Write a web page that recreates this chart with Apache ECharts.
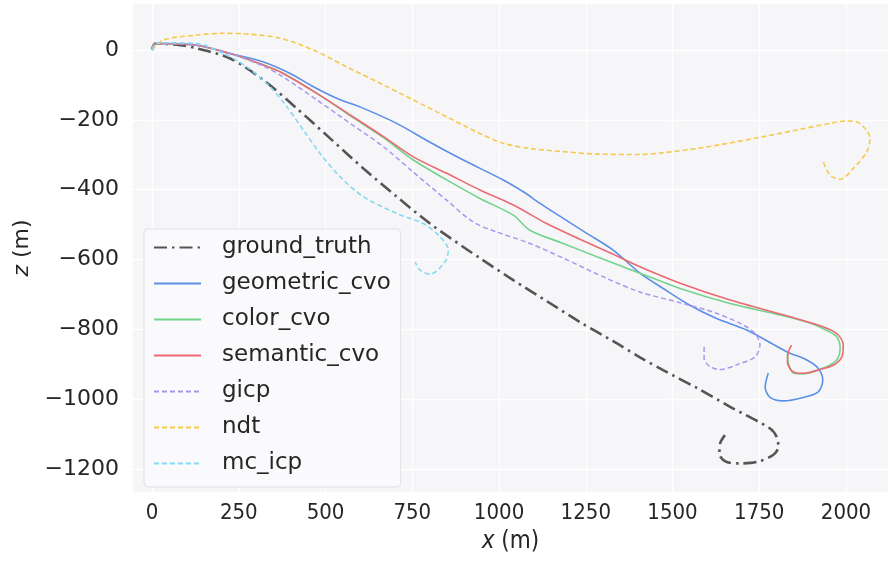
<!DOCTYPE html>
<html><head><meta charset="utf-8">
<script src="https://cdn.jsdelivr.net/npm/echarts@6/dist/echarts.min.js"></script>
<style>html,body{margin:0;padding:0;background:#fff}#c{width:888px;height:562px}</style>
</head><body><div id="c"></div>
<script>
const xTicks = [0, 250, 500, 750, 1000, 1250, 1500, 1750, 2000];
const zTicks = [0, -200, -400, -600, -800, -1000, -1200];
const seriesNames = ['ground_truth', 'geometric_cvo', 'color_cvo', 'semantic_cvo', 'gicp', 'ndt', 'mc_icp'];

const gtX = [0, 9, 81, 129, 225, 321, 417, 513, 609, 705, 801, 897, 945, 1041, 1137, 1233, 1329, 1406, 1473, 1570, 1666, 1781, 1800, 1805, 1790, 1743, 1695, 1656, 1635, 1637, 1651];
const gtZ = [0, 19, 14, 5, -24, -86, -167, -253, -339, -420, -497, -564, -596, -659, -719, -779, -834, -880, -917, -968, -1022, -1084, -1108, -1137, -1160, -1180, -1184, -1180, -1158, -1127, -1103];

const geoX = [0, 9, 129, 225, 321, 398, 465, 532, 609, 705, 801, 897, 1012, 1070, 1118, 1185, 1253, 1329, 1406, 1473, 1550, 1627, 1714, 1829, 1887, 1920, 1933, 1920, 1877, 1819, 1781, 1767, 1776];
const geoZ = [0, 19, 14, -10, -34, -67, -105, -138, -167, -210, -264, -315, -372, -406, -439, -482, -525, -573, -639, -683, -731, -769, -802, -864, -888, -912, -946, -979, -995, -1005, -995, -965, -925];

const colX = [0, 9, 129, 225, 321, 378, 475, 571, 667, 753, 849, 945, 1041, 1089, 1185, 1282, 1406, 1522, 1666, 1810, 1896, 1942, 1973, 1983, 1973, 1944, 1877, 1848, 1834, 1831];
const colZ = [0, 19, 14, -10, -43, -67, -124, -188, -251, -315, -372, -425, -473, -516, -554, -592, -639, -683, -726, -759, -782, -802, -821, -855, -888, -907, -928, -925, -898, -869];

const semX = [0, 9, 129, 225, 321, 378, 475, 571, 667, 753, 849, 945, 1041, 1137, 1233, 1329, 1406, 1522, 1666, 1839, 1935, 1973, 1992, 1988, 1963, 1925, 1877, 1848, 1831, 1834, 1843];
const semZ = [0, 19, 14, -10, -43, -67, -124, -186, -248, -306, -353, -401, -444, -497, -542, -585, -621, -668, -716, -764, -793, -812, -845, -879, -903, -915, -926, -922, -893, -864, -845];

const gicpX = [0, 9, 129, 225, 321, 378, 475, 571, 667, 753, 849, 926, 993, 1089, 1185, 1310, 1406, 1522, 1618, 1695, 1738, 1752, 1738, 1695, 1637, 1608, 1591, 1591];
const gicpZ = [0, 19, 14, -10, -46, -77, -143, -210, -277, -350, -430, -493, -521, -554, -596, -654, -693, -724, -751, -783, -812, -845, -879, -898, -915, -907, -883, -845];

const ndtX = [0, 33, 129, 206, 273, 369, 465, 561, 657, 753, 849, 945, 1012, 1089, 1185, 1282, 1406, 1473, 1570, 1666, 1762, 1858, 1954, 2002, 2040, 2069, 2060, 2021, 1983, 1954, 1933];
const ndtZ = [0, 29, 43, 48, 46, 34, 0, -48, -95, -143, -191, -239, -267, -282, -291, -298, -299, -294, -282, -266, -248, -229, -210, -203, -210, -253, -291, -339, -370, -358, -317];

const mcX = [0, 14, 129, 206, 273, 340, 388, 436, 484, 542, 609, 705, 782, 830, 854, 844, 801, 772, 758];
const mcZ = [0, 21, 19, -10, -48, -105, -162, -229, -296, -363, -420, -468, -497, -535, -573, -607, -642, -630, -607];

const allX = [gtX, geoX, colX, semX, gicpX, ndtX, mcX];
const allZ = [gtZ, geoZ, colZ, semZ, gicpZ, ndtZ, mcZ];
const colors = ['#555555', '#5b8fe6', '#72d38d', '#eb6a72', '#aa95ef', '#f6c94b', '#86d8f0'];
const widths = [2.6, 1.6, 1.6, 1.6, 1.5, 1.6, 1.6];
const dashes = [[13, 5, 2.5, 5], 'solid', 'solid', 'solid', [5, 3], [5, 3], [5, 3]];

const FONT = 'DejaVu Sans';
const NARROW = "'DejaVu Sans Condensed', 'Liberation Sans Narrow', 'DejaVu Sans'";
const series = seriesNames.map((name, i) => ({
  name, type: 'line', smooth: 0.3, symbol: 'none', showSymbol: false, z: 3,
  data: allX[i].map((x, k) => [x, allZ[i][k]]),
  lineStyle: { color: colors[i], width: widths[i], type: dashes[i] },
  itemStyle: { color: colors[i] },
  emphasis: { disabled: true }
}));
series.unshift({
  name: 'grid', type: 'line', data: [], symbol: 'none', silent: true, z: 1,
  markLine: {
    silent: true, symbol: ['none', 'none'], z: 1, animation: false,
    label: { show: false },
    lineStyle: { color: '#ffffff', width: 1.3, type: 'solid' },
    emphasis: { disabled: true },
    data: xTicks.map(v => ({ xAxis: v })).concat(zTicks.map(v => ({ yAxis: v })))
  }
});

const chart = echarts.init(document.getElementById('c'), null, { renderer: 'canvas' });
chart.setOption({
  animation: false,
  backgroundColor: '#ffffff',
  textStyle: { fontFamily: FONT },
  grid: { left: 133, right: 0, top: 4, bottom: 70, show: true, backgroundColor: '#f6f6f9', borderWidth: 0 },
  xAxis: {
    type: 'value', min: -55, max: 2121,
    axisLine: { show: false }, axisTick: { show: false }, splitLine: { show: false },
    axisLabel: { customValues: xTicks, fontSize: 22, color: '#262626', margin: 10, fontFamily: NARROW,
      formatter: v => String(v) },
    name: '{i|x} (m)', nameLocation: 'middle', nameGap: 38,
    nameTextStyle: { fontSize: 24, color: '#262626', fontFamily: NARROW,
      rich: { i: { fontSize: 24, fontStyle: 'italic', color: '#262626', fontFamily: NARROW } } }
  },
  yAxis: {
    type: 'value', min: -1266, max: 132,
    axisLine: { show: false }, axisTick: { show: false }, splitLine: { show: false },
    axisLabel: { customValues: zTicks, fontSize: 22, color: '#262626', margin: 14, fontFamily: FONT,
      formatter: v => String(v).replace('-', '\u2212') },
    name: '{i|z} (m)', nameLocation: 'middle', nameGap: 98, nameRotate: 90,
    nameTextStyle: { fontSize: 22, color: '#262626', fontFamily: FONT,
      rich: { i: { fontSize: 22, fontStyle: 'italic', color: '#262626', fontFamily: FONT } } }
  },
  legend: {
    data: seriesNames, orient: 'vertical', left: 144, top: 229,
    backgroundColor: '#fafafc', borderColor: '#e0e0e4', borderWidth: 1, borderRadius: 4,
    padding: [7, 10, 12, 9], itemWidth: 47, itemHeight: 14, itemGap: 13,
    itemStyle: { opacity: 0 },
    textStyle: { fontSize: 23, color: '#262626', fontFamily: FONT, lineHeight: 22, padding: [0, 0, 0, 16] }
  },
  series
});
</script></body></html>
